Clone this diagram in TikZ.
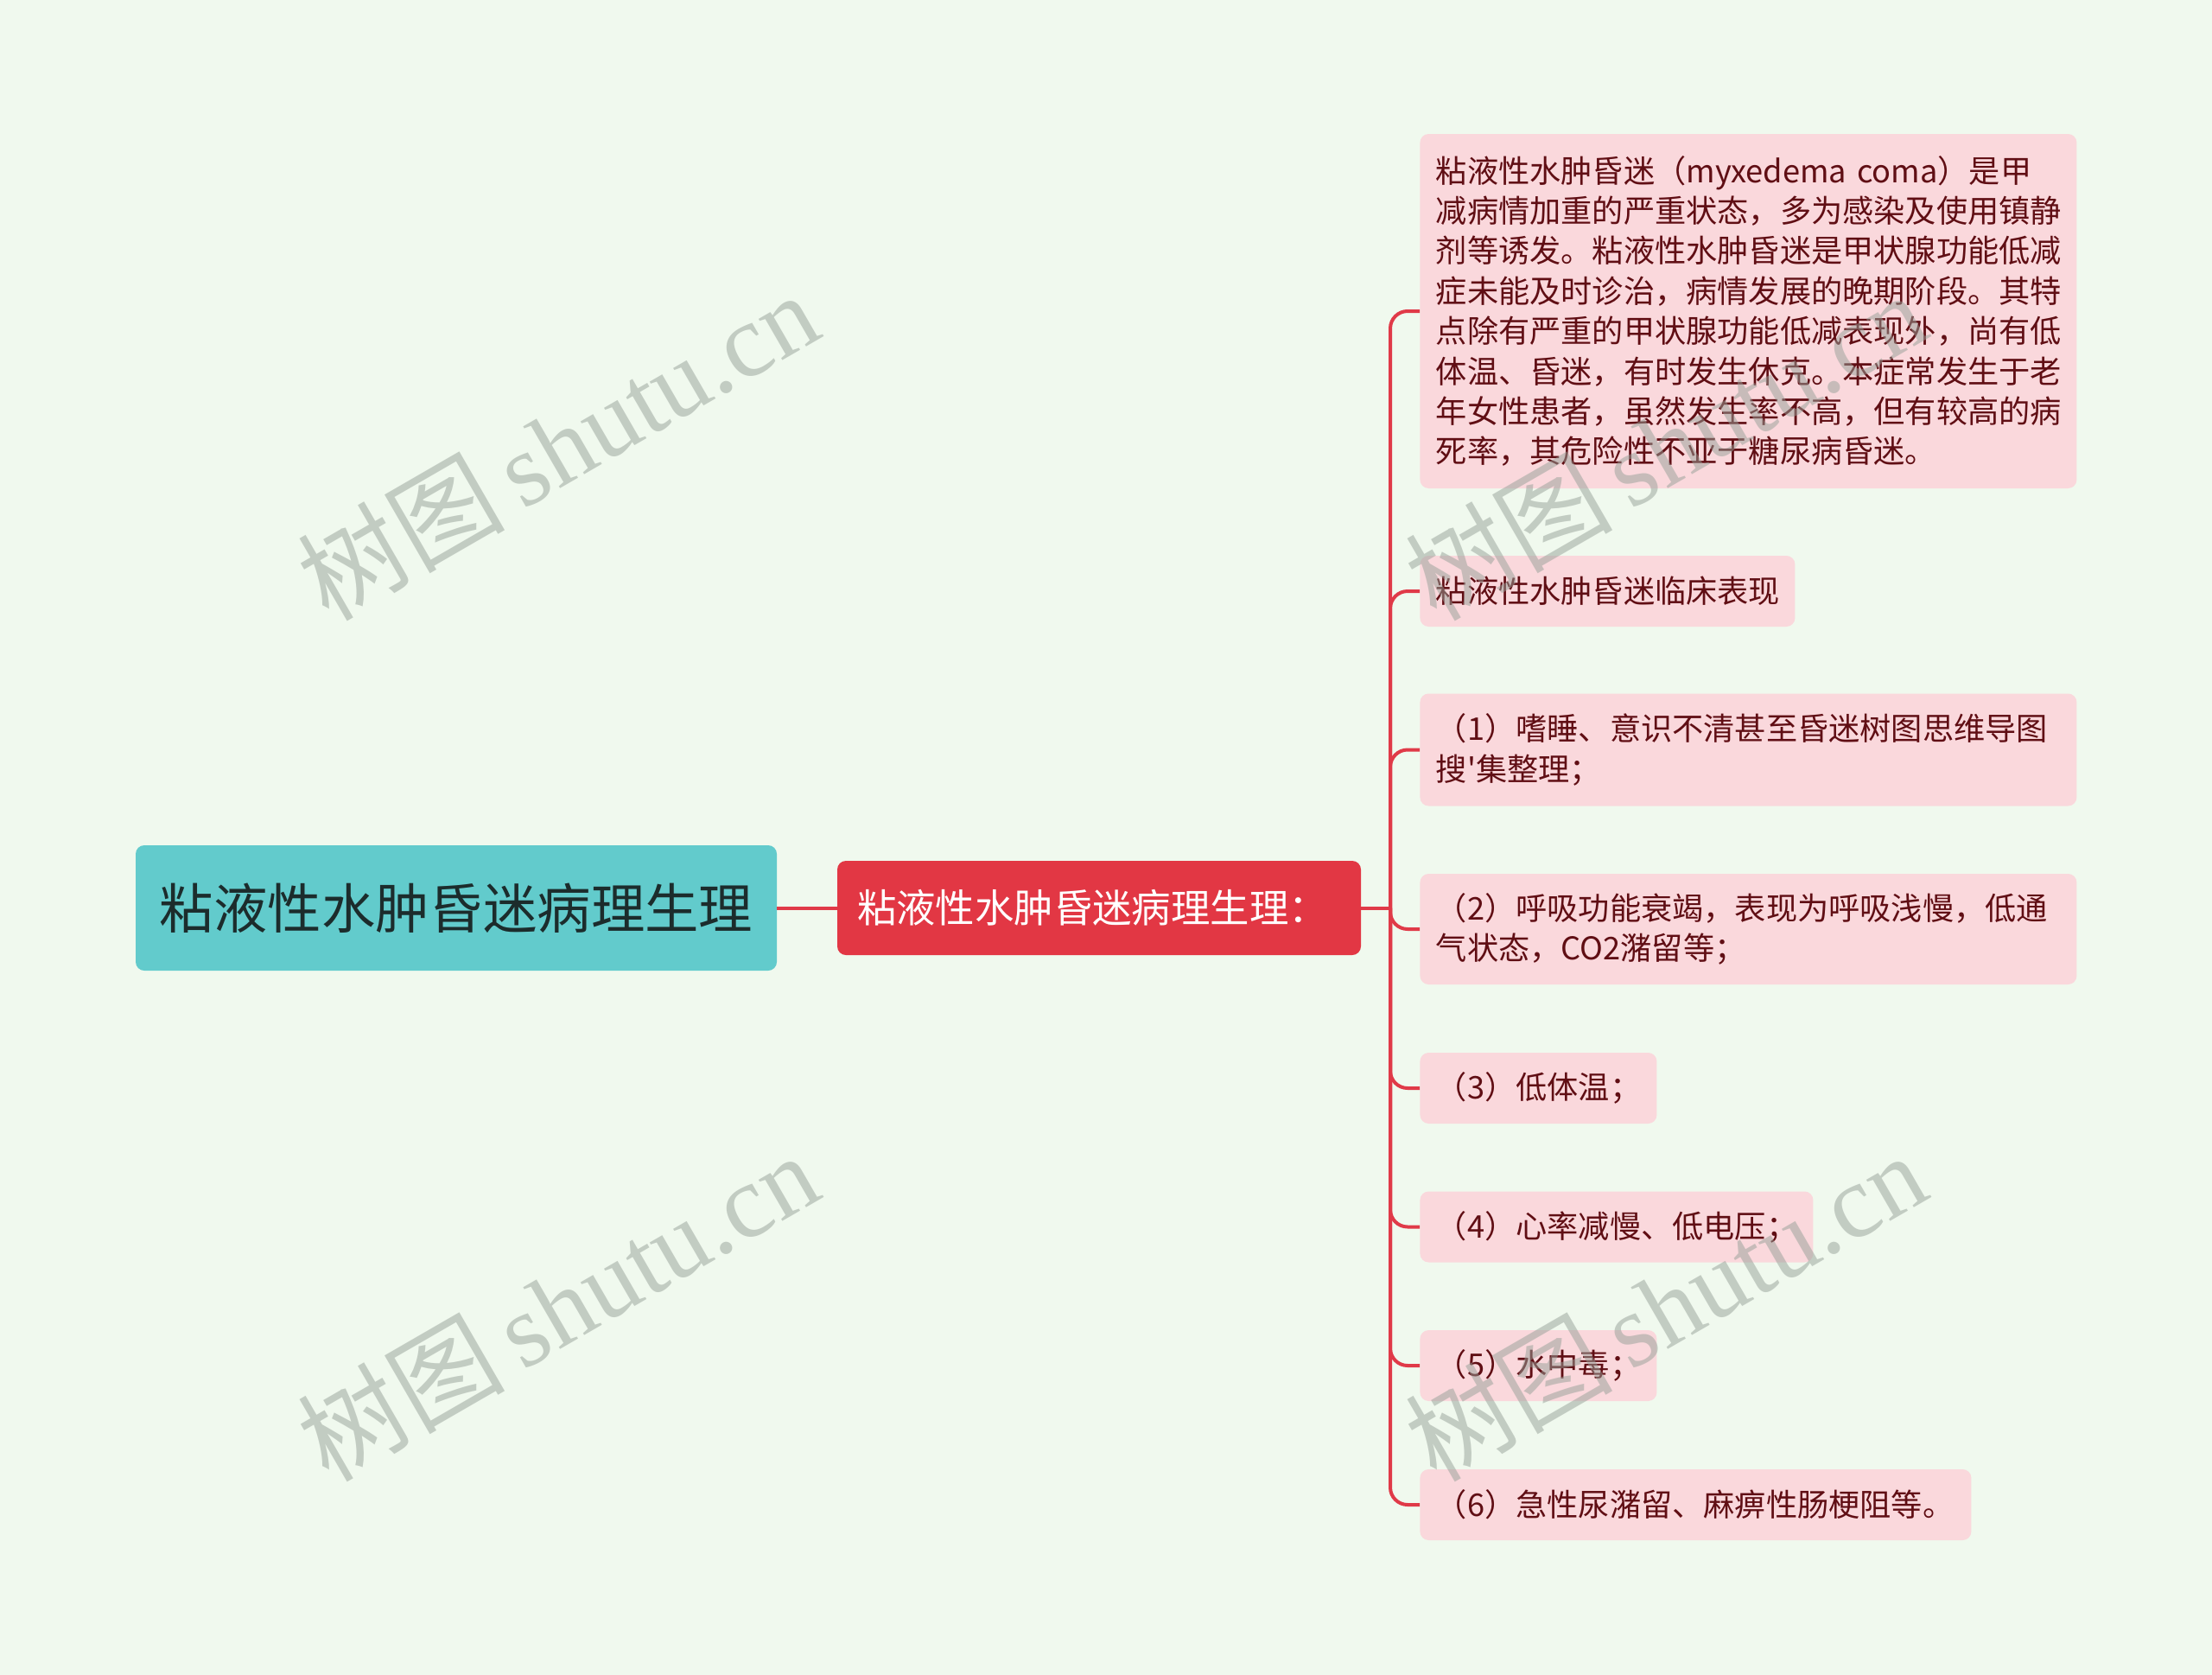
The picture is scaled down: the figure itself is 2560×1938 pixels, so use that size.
\documentclass[tikz,border=0pt]{standalone}
\usepackage{fontspec}
\newfontfamily\nfont{Noto Sans CJK SC}
\newfontfamily\wmlatin{Liberation Serif}
\definecolor{bgcol}{RGB}{240,249,238}
\definecolor{linkred}{RGB}{224,58,72}
\definecolor{rootfill}{RGB}{98,203,204}
\definecolor{roottext}{RGB}{28,44,44}
\definecolor{mainfill}{RGB}{226,55,68}
\definecolor{leaffill}{RGB}{250,216,220}
\definecolor{leaftext}{RGB}{96,14,20}
\definecolor{wmcol}{RGB}{150,160,152}
\begin{document}
\begin{tikzpicture}[x=0.5pt,y=-0.5pt,
  link/.style={draw=linkred, line width=2pt},
  rootbox/.style={fill=rootfill, rounded corners=5pt, text=roottext,
    font=\nfont\fontsize{31.2}{36}\selectfont, minimum width=371pt, minimum height=72.5pt,
    inner sep=0pt, align=center},
  mainbox/.style={fill=mainfill, rounded corners=5pt, text=white,
    font=\nfont\fontsize{22.7}{26}\selectfont, text width=280pt, inner xsep=11.5pt,
    minimum height=54.5pt, inner ysep=0pt, align=left},
  leaf/.style={fill=leaffill, rounded corners=5pt, text=leaftext,
    font=\nfont\fontsize{18.1}{23.2}\selectfont, align=left, inner xsep=9.25pt,
    inner ysep=0pt, anchor=west},
  wm/.style={text=wmcol, opacity=0.5, rotate=30, inner sep=0pt,
    font=\fontsize{60}{66}\selectfont}
]
\fill[bgcol] (0,0) rectangle (2560,1938);
\useasboundingbox (0,0) rectangle (2560,1938);

\node[rootbox] (root) at (528,1050.5) {粘液性水肿昏迷病理生理};
\node[mainbox] (main) at (1272,1050.5) {粘液性水肿昏迷病理生理：};

\node[leaf, text width=361.5pt, minimum height=205pt] (c1) at (1643,360)
 {粘液性水肿昏迷（myxedema coma）是甲\\
  减病情加重的严重状态，多为感染及使用镇静\\
  剂等诱发。粘液性水肿昏迷是甲状腺功能低减\\
  症未能及时诊治，病情发展的晚期阶段。其特\\
  点除有严重的甲状腺功能低减表现外，尚有低\\
  体温、昏迷，有时发生休克。本症常发生于老\\
  年女性患者，虽然发生率不高，但有较高的病\\
  死率，其危险性不亚于糖尿病昏迷。};
\node[leaf, text width=198.5pt, minimum height=41pt] (c2) at (1643,684) {粘液性水肿昏迷临床表现};
\node[leaf, text width=361.5pt, minimum height=65pt] (c3) at (1643,867.5)
 {（1）嗜睡、意识不清甚至昏迷树图思维导图\\搜'集整理；};
\node[leaf, text width=361.5pt, minimum height=64pt] (c4) at (1643,1075)
 {（2）呼吸功能衰竭，表现为呼吸浅慢，低通\\气状态，CO2潴留等；};
\node[leaf, text width=118.5pt, minimum height=41pt] (c5) at (1643,1259) {（3）低体温；};
\node[leaf, text width=209pt, minimum height=41pt] (c6) at (1643,1419.5) {（4）心率减慢、低电压；};
\node[leaf, text width=118.5pt, minimum height=41pt] (c7) at (1643,1580) {（5）水中毒；};
\node[leaf, text width=300.5pt, minimum height=41pt] (c8) at (1643,1741) {（6）急性尿潴留、麻痹性肠梗阻等。};

\coordinate (junc) at (1609,1050.5);
\draw[link] (root.east) -- (main.east -| main.west);
\draw[link] (main.east) -- (junc);
\foreach \c in {c1,c2,c3,c4,c5,c6,c7,c8}{
  \draw[link, rounded corners=10pt] (junc) |- (\c.west);
}

\foreach \p in {(645,515),(1927,515),(645,1511),(1927,1511)}{
  \node[wm] at \p {{\nfont 树图}\,{\wmlatin shutu.cn}};
}
\end{tikzpicture}
\end{document}
